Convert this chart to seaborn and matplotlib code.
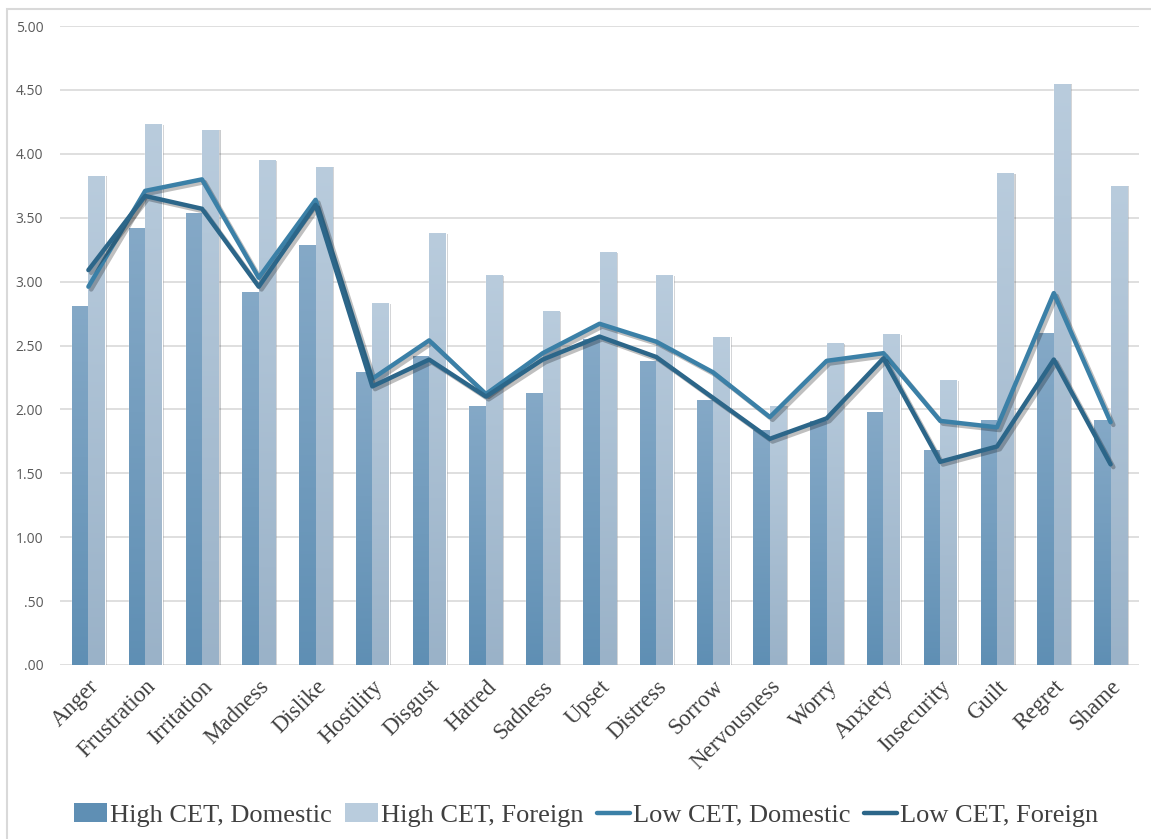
import numpy as np
import pandas as pd
import matplotlib
matplotlib.use("Agg")
import matplotlib.pyplot as plt
import matplotlib.patheffects as pe
from matplotlib.colors import LinearSegmentedColormap
from matplotlib.patches import Patch, Rectangle
from matplotlib.lines import Line2D
from matplotlib.ticker import FuncFormatter
import seaborn as sns

# data
emotions = ["Anger", "Frustration", "Irritation", "Madness", "Dislike", "Hostility",
            "Disgust", "Hatred", "Sadness", "Upset", "Distress", "Sorrow",
            "Nervousness", "Worry", "Anxiety", "Insecurity", "Guilt", "Regret", "Shame"]
high_domestic = [2.81, 3.42, 3.54, 2.92, 3.29, 2.29, 2.42, 2.03, 2.13, 2.55,
                 2.38, 2.07, 1.84, 1.91, 1.98, 1.68, 1.92, 2.60, 1.92]
high_foreign = [3.83, 4.23, 4.19, 3.95, 3.90, 2.83, 3.38, 3.05, 2.77, 3.23,
                3.05, 2.57, 2.03, 2.52, 2.59, 2.23, 3.85, 4.55, 3.75]
low_domestic = [2.96, 3.71, 3.80, 3.03, 3.64, 2.24, 2.54, 2.12, 2.44, 2.67,
                2.53, 2.29, 1.94, 2.38, 2.44, 1.91, 1.86, 2.91, 1.90]
low_foreign = [3.09, 3.67, 3.57, 2.96, 3.60, 2.18, 2.39, 2.10, 2.39, 2.57,
               2.41, 2.09, 1.77, 1.93, 2.40, 1.59, 1.71, 2.39, 1.57]
series_names = ["High CET, Domestic", "High CET, Foreign",
                "Low CET, Domestic", "Low CET, Foreign"]

bar_df = pd.DataFrame({
    "emotion": emotions * 2,
    "value": high_domestic + high_foreign,
    "group": [series_names[0]] * len(emotions) + [series_names[1]] * len(emotions),
})

dark_top, dark_bot = "#85a9c7", "#5f8fb4"
light_top, light_bot = "#b9ccdd", "#9ab2c8"
line_dom, line_for = "#3b80a7", "#2c6689"

sns.set_theme(style="white")
plt.rcParams["font.family"] = ["DejaVu Sans"]

fig = plt.figure(figsize=(11.51, 8.39), dpi=100)
ax = fig.add_axes([60 / 1151, 1 - 665 / 839, 1079 / 1151, 639 / 839])

sns.barplot(data=bar_df, x="emotion", y="value", hue="group",
            palette=[dark_bot, light_bot], width=0.58, gap=0,
            saturation=1, legend=False, ax=ax, zorder=2)

# vertical gradient fill inside each bar, with a soft shadow
cmaps = [LinearSegmentedColormap.from_list("d", [dark_bot, dark_top]),
         LinearSegmentedColormap.from_list("l", [light_bot, light_top])]
grad = np.linspace(0, 1, 256).reshape(-1, 1)
for cont, cm in zip(ax.containers, cmaps):
    for bar in cont:
        x0, w, h = bar.get_x(), bar.get_width(), bar.get_height()
        bar.set_path_effects([pe.SimplePatchShadow(offset=(1.5, -0.5), alpha=0.25), pe.Normal()])
        im = ax.imshow(grad, cmap=cm, origin="lower", aspect="auto",
                       extent=[x0, x0 + w, 0, h], zorder=2.1)
        im.set_clip_path(bar)

pos = np.arange(len(emotions))
shadow = [pe.SimpleLineShadow(offset=(2, -2), alpha=0.25, shadow_color="black"), pe.Normal()]
sns.lineplot(x=pos, y=low_domestic, color=line_dom, linewidth=3.2, ax=ax,
             zorder=4, path_effects=shadow)
sns.lineplot(x=pos, y=low_foreign, color=line_for, linewidth=3.2, ax=ax,
             zorder=4, path_effects=shadow)

ax.set_xlim(-0.5, len(emotions) - 0.5)
ax.set_ylim(0, 5)
ax.set_yticks(np.arange(0, 5.01, 0.5))
ax.yaxis.set_major_formatter(FuncFormatter(lambda v, p: f"{v:.2f}".lstrip("0") if v < 1 else f"{v:.2f}"))
ax.grid(axis="y", color="#d9d9d9", linewidth=1.2, zorder=0)
ax.set_axisbelow(True)
for s in ax.spines.values():
    s.set_visible(False)
ax.set_xlabel("")
ax.set_ylabel("")
ax.tick_params(axis="y", labelsize=10, labelcolor="#595959", length=0, pad=12)
ax.set_xticks(pos)
ax.set_xticklabels(emotions, rotation=45, ha="right", rotation_mode="anchor",
                   fontsize=16.5, color="#404040", family="Liberation Serif")
ax.tick_params(axis="x", length=0, pad=8)
for lab in ax.get_yticklabels():
    lab.set_family("Open Sans")

handles = [Patch(facecolor=dark_bot, edgecolor="none"),
           Patch(facecolor=light_top, edgecolor="none"),
           Line2D([0], [0], color=line_dom, lw=3.2),
           Line2D([0], [0], color=line_for, lw=3.2)]
fig.legend(handles, series_names, loc="center", bbox_to_anchor=(0.509, 1 - 815 / 839),
           ncol=4, frameon=False, prop={"family": "Liberation Serif", "size": 19},
           labelcolor="#404040", handlelength=1.25, handletextpad=0.12, columnspacing=0.5)

# outer chart border
fig.patches.append(Rectangle((7 / 1151, -0.01), 1.02, 1 - 9 / 839 + 0.01,
                             transform=fig.transFigure, fill=False,
                             edgecolor="#d9d9d9", linewidth=1.5))

fig.savefig("out.png", dpi=100)
